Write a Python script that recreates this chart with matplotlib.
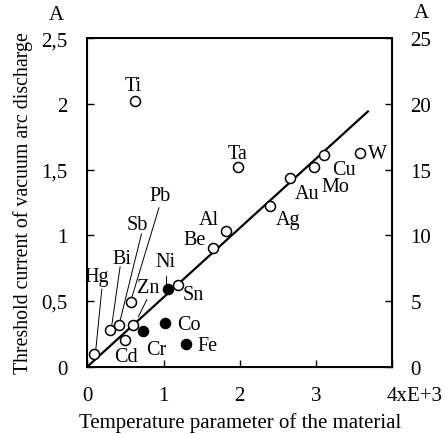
import numpy as np
import matplotlib
matplotlib.use("Agg")
import matplotlib.pyplot as plt
import matplotlib.transforms as mtransforms

plt.rcParams['font.family'] = ['Liberation Serif', 'DejaVu Serif']
plt.rcParams['mathtext.fontset'] = 'stix'

## Open circles (materials on / near the line)
Open_Names = ['Hg', 'Bi', 'Sb', 'Pb', 'Zn', 'Cd', 'Ti', 'Sn', 'Be', 'Al', 'Ta', 'Ag', 'Au', 'Mo', 'Cu', 'W']
Open_X = [0.09, 0.30, 0.41, 0.57, 0.60, 0.49, 0.62, 1.19, 1.65, 1.82, 1.97, 2.40, 2.66, 2.97, 3.10, 3.58]
Open_Y = [0.10, 0.28, 0.32, 0.49, 0.32, 0.20, 2.02, 0.62, 0.90, 1.03, 1.52, 1.22, 1.44, 1.52, 1.61, 1.63]

## Filled circles (ferromagnetic / other)
Filled_Names = ['Cr', 'Co', 'Ni', 'Fe']
Filled_X = [0.73, 1.02, 1.06, 1.29]
Filled_Y = [0.27, 0.33, 0.59, 0.17]

# fitted line through origin
Fit_X = [0.0, 3.68]
Fit_Slope = 0.528

# label positions (data coords) and leader lines for crowded region
Label_Pos = {
    'Hg': (0.125, 0.69), 'Bi': (0.45, 0.82), 'Sb': (0.66, 1.08), 'Pb': (0.95, 1.30),
    'Zn': (0.80, 0.60), 'Cd': (0.51, 0.08), 'Ti': (0.60, 2.14), 'Sn': (1.39, 0.55),
    'Be': (1.41, 0.97), 'Al': (1.60, 1.12), 'Ta': (1.97, 1.62), 'Ag': (2.63, 1.12),
    'Au': (2.88, 1.32), 'Mo': (3.25, 1.37), 'Cu': (3.36, 1.50), 'W': (3.80, 1.62),
    'Cr': (0.90, 0.13), 'Co': (1.33, 0.325), 'Ni': (1.03, 0.80), 'Fe': (1.58, 0.16),
}
Leaders = {
    'Hg': ((0.19, 0.59), (0.11, 0.12)),
    'Bi': ((0.43, 0.76), (0.32, 0.31)),
    'Sb': ((0.71, 1.01), (0.43, 0.35)),
    'Pb': ((0.94, 1.21), (0.58, 0.52)),
    'Zn': ((0.78, 0.51), (0.67, 0.38)),
    'Ni': ((1.03, 0.69), (1.03, 0.62)),
}

fig = plt.figure(figsize=(4.45, 4.35), dpi=100)
ax = fig.add_axes([87.3 / 445, 1 - 367.7 / 435, 305 / 445, 328.4 / 435])

xx = np.array(Fit_X)
ax.plot(xx, Fit_Slope * xx, color='k', linewidth=1.6, zorder=2)

ax.plot(Open_X, Open_Y, 'o', markersize=7.2, markerfacecolor='white',
        markeredgecolor='k', markeredgewidth=1.1, linestyle='', zorder=3)
ax.plot(Filled_X, Filled_Y, 'o', markersize=7.2, markerfacecolor='k',
        markeredgecolor='k', markeredgewidth=1.1, linestyle='', zorder=3)

for name, (lx, ly) in Label_Pos.items():
    ax.text(lx, ly, name, fontsize=14.5, ha='center', va='center', zorder=4)

for name, (p0, p1) in Leaders.items():
    ax.plot([p0[0], p1[0]], [p0[1], p1[1]], color='k', linewidth=0.7, zorder=1)

ax.set_xlim(0, 4)
ax.set_ylim(0, 2.5)
for sp in ax.spines.values():
    sp.set_linewidth(1.4)

ax.set_xticks([0, 1, 2, 3, 4])
ax.set_xticklabels(['0', '1', '2', '3', '4xE+3'])
ax.set_yticks([0, 0.5, 1, 1.5, 2, 2.5])
ax.set_yticklabels(['0', '0,5', '1', '1,5', '2', '2,5'])
ax.tick_params(direction='in', length=5, width=1, labelsize=15, pad=14)
ax.tick_params(axis='x', pad=14)

lbl = ax.get_xticklabels()[-1]
lbl.set_ha('left')
lbl.set_transform(lbl.get_transform() + mtransforms.ScaledTranslation(-4 / 72, 0, fig.dpi_scale_trans))

ax2 = ax.twinx()
ax2.set_ylim(0, 25)
ax2.set_yticks([0, 5, 10, 15, 20, 25])
ax2.tick_params(direction='in', length=5, width=1, labelsize=15, pad=13)

ax.set_xlabel('Temperature parameter of the material', fontsize=15, labelpad=5)
ax.set_ylabel('Threshold current of vacuum arc discharge', fontsize=14.3, labelpad=6)

fig.text(56 / 445, 1 - 15 / 435, 'A', fontsize=15, ha='center', va='center')
fig.text(421 / 445, 1 - 13 / 435, 'A', fontsize=15, ha='center', va='center')

fig.savefig('out.png', dpi=100)
